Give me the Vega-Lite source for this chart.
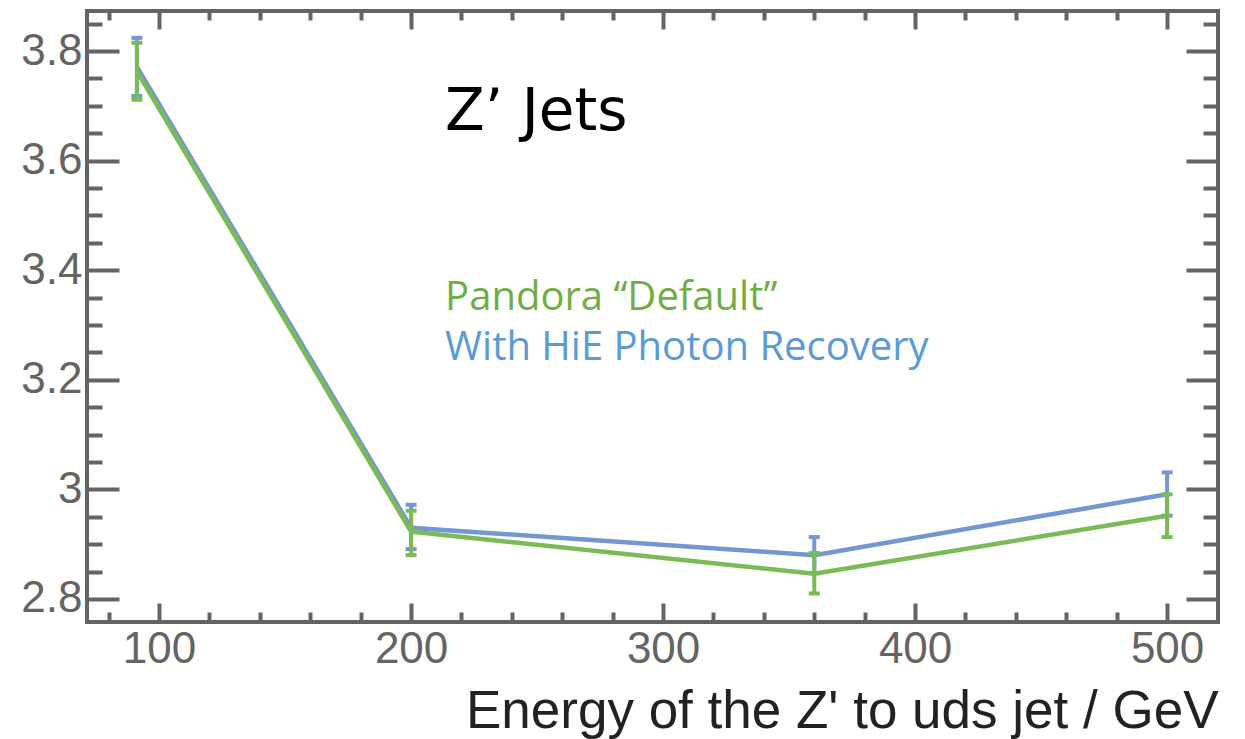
{
  "$schema": "https://vega.github.io/schema/vega-lite/v6.json",
  "autosize": "none",
  "width": 1131,
  "height": 611,
  "padding": {"left": 87, "top": 11, "right": 27, "bottom": 117},
  "background": "white",
  "config": {
    "view": {"stroke": "#646464", "strokeWidth": 4},
    "axis": {"domain": false, "grid": false, "tickColor": "#646464", "tickWidth": 4, "labelColor": "#646464", "labelFont": "Liberation Sans", "labelFontSize": 44, "labelOverlap": false, "labelFlush": false, "title": null}
  },
  "datasets": {
    "pts": [
      {"series": "HiE", "E": 91.2, "val": 3.771, "lo": 3.718, "hi": 3.824},
      {"series": "HiE", "E": 200, "val": 2.930, "lo": 2.891, "hi": 2.972},
      {"series": "HiE", "E": 360, "val": 2.880, "lo": 2.847, "hi": 2.913},
      {"series": "HiE", "E": 500, "val": 2.991, "lo": 2.952, "hi": 3.031},
      {"series": "Default", "E": 91.2, "val": 3.763, "lo": 3.711, "hi": 3.815},
      {"series": "Default", "E": 200, "val": 2.923, "lo": 2.880, "hi": 2.961},
      {"series": "Default", "E": 360, "val": 2.846, "lo": 2.810, "hi": 2.884},
      {"series": "Default", "E": 500, "val": 2.952, "lo": 2.913, "hi": 2.991}
    ],
    "notes": [
      {"label": "Pandora “Default”", "E": 213.5, "val": 3.327},
      {"label": "With HiE Photon Recovery", "E": 213.5, "val": 3.236}
    ],
    "head": [
      {"label": "Z’ Jets", "E": 213.5, "val": 3.656}
    ]
  },
  "resolve": {"axis": {"x": "independent", "y": "independent"}},
  "layer": [
    {
      "data": {"name": "pts"},
      "transform": [{"filter": "datum.series === 'HiE'"}],
      "mark": {"type": "line", "color": "#7497d3", "strokeWidth": 4.5},
      "encoding": {
        "x": {"field": "E", "type": "quantitative", "scale": {"domain": [71.4, 520.2], "nice": false, "zero": false},
          "axis": {"orient": "bottom", "values": [100, 200, 300, 400, 500], "ticks": false, "tickSize": 0, "labelPadding": 40, "labelBaseline": "alphabetic",
            "title": "Energy of the Z' to uds jet / GeV", "titleFont": "Liberation Sans", "titleFontSize": 53, "titleFontWeight": "normal", "titleColor": "#222222",
            "titleAnchor": "end", "titleAlign": "right", "titleBaseline": "alphabetic", "titleX": 1131, "titleY": 105}},
        "y": {"field": "val", "type": "quantitative", "scale": {"domain": [2.758, 3.873], "nice": false, "zero": false},
          "axis": {"orient": "left", "values": [2.8, 3, 3.2, 3.4, 3.6, 3.8], "format": "~g", "ticks": false, "tickSize": 0, "labelPadding": 5}}
      }
    },
    {
      "data": {"name": "pts"},
      "transform": [{"filter": "datum.series === 'HiE'"}],
      "mark": {"type": "rule", "color": "#7497d3", "strokeWidth": 4},
      "encoding": {
        "x": {"field": "E", "type": "quantitative", "scale": {"domain": [71.4, 520.2], "nice": false, "zero": false},
          "axis": {"orient": "bottom", "values": [100, 200, 300, 400, 500], "labels": false, "tickSize": -19}},
        "y": {"field": "lo", "type": "quantitative", "scale": {"domain": [2.758, 3.873], "nice": false, "zero": false},
          "axis": {"orient": "left", "values": [2.8, 3, 3.2, 3.4, 3.6, 3.8], "labels": false, "tickSize": -32}},
        "y2": {"field": "hi"}
      }
    },
    {
      "data": {"name": "pts"},
      "transform": [{"filter": "datum.series === 'HiE'"}],
      "mark": {"type": "tick", "orient": "horizontal", "color": "#7497d3", "size": 11, "thickness": 4, "opacity": 1},
      "encoding": {
        "x": {"field": "E", "type": "quantitative", "scale": {"domain": [71.4, 520.2], "nice": false, "zero": false},
          "axis": {"orient": "bottom", "values": [80, 120, 140, 160, 180, 220, 240, 260, 280, 320, 340, 360, 380, 420, 440, 460, 480], "labels": false, "tickSize": -10}},
        "y": {"field": "lo", "type": "quantitative", "scale": {"domain": [2.758, 3.873], "nice": false, "zero": false},
          "axis": {"orient": "left", "values": [2.85, 2.9, 2.95, 3.05, 3.1, 3.15, 3.25, 3.3, 3.35, 3.45, 3.5, 3.55, 3.65, 3.7, 3.75, 3.85], "labels": false, "tickSize": -15}}
      }
    },
    {
      "data": {"name": "pts"},
      "transform": [{"filter": "datum.series === 'HiE'"}],
      "mark": {"type": "tick", "orient": "horizontal", "color": "#7497d3", "size": 11, "thickness": 4, "opacity": 1},
      "encoding": {
        "x": {"field": "E", "type": "quantitative", "scale": {"domain": [71.4, 520.2], "nice": false, "zero": false},
          "axis": {"orient": "top", "values": [100, 200, 300, 400, 500], "labels": false, "tickSize": -18}},
        "y": {"field": "hi", "type": "quantitative", "scale": {"domain": [2.758, 3.873], "nice": false, "zero": false},
          "axis": {"orient": "right", "values": [2.8, 3, 3.2, 3.4, 3.6, 3.8], "labels": false, "tickSize": -32}}
      }
    },
    {
      "data": {"name": "pts"},
      "transform": [{"filter": "datum.series === 'Default'"}],
      "mark": {"type": "line", "color": "#7bbb57", "strokeWidth": 4.5},
      "encoding": {
        "x": {"field": "E", "type": "quantitative", "scale": {"domain": [71.4, 520.2], "nice": false, "zero": false},
          "axis": {"orient": "top", "values": [80, 120, 140, 160, 180, 220, 240, 260, 280, 320, 340, 360, 380, 420, 440, 460, 480], "labels": false, "tickSize": -9}},
        "y": {"field": "val", "type": "quantitative", "scale": {"domain": [2.758, 3.873], "nice": false, "zero": false},
          "axis": {"orient": "right", "values": [2.85, 2.9, 2.95, 3.05, 3.1, 3.15, 3.25, 3.3, 3.35, 3.45, 3.5, 3.55, 3.65, 3.7, 3.75, 3.85], "labels": false, "tickSize": -15}}
      }
    },
    {
      "data": {"name": "pts"},
      "transform": [{"filter": "datum.series === 'Default'"}],
      "mark": {"type": "rule", "color": "#7bbb57", "strokeWidth": 4},
      "encoding": {
        "x": {"field": "E", "type": "quantitative", "scale": {"domain": [71.4, 520.2], "nice": false, "zero": false}, "axis": null},
        "y": {"field": "lo", "type": "quantitative", "scale": {"domain": [2.758, 3.873], "nice": false, "zero": false}, "axis": null},
        "y2": {"field": "hi"}
      }
    },
    {
      "data": {"name": "pts"},
      "transform": [{"filter": "datum.series === 'Default'"}],
      "mark": {"type": "tick", "orient": "horizontal", "color": "#7bbb57", "size": 11, "thickness": 4, "opacity": 1},
      "encoding": {
        "x": {"field": "E", "type": "quantitative", "scale": {"domain": [71.4, 520.2], "nice": false, "zero": false}, "axis": null},
        "y": {"field": "lo", "type": "quantitative", "scale": {"domain": [2.758, 3.873], "nice": false, "zero": false}, "axis": null}
      }
    },
    {
      "data": {"name": "pts"},
      "transform": [{"filter": "datum.series === 'Default'"}],
      "mark": {"type": "tick", "orient": "horizontal", "color": "#7bbb57", "size": 11, "thickness": 4, "opacity": 1},
      "encoding": {
        "x": {"field": "E", "type": "quantitative", "scale": {"domain": [71.4, 520.2], "nice": false, "zero": false}, "axis": null},
        "y": {"field": "hi", "type": "quantitative", "scale": {"domain": [2.758, 3.873], "nice": false, "zero": false}, "axis": null}
      }
    },
    {
      "data": {"name": "head"},
      "mark": {"type": "text", "align": "left", "baseline": "alphabetic", "font": "DejaVu Sans", "fontSize": 58, "color": "#000000"},
      "encoding": {
        "x": {"field": "E", "type": "quantitative", "scale": {"domain": [71.4, 520.2], "nice": false, "zero": false}, "axis": null},
        "y": {"field": "val", "type": "quantitative", "scale": {"domain": [2.758, 3.873], "nice": false, "zero": false}, "axis": null},
        "text": {"field": "label"}
      }
    },
    {
      "data": {"name": "notes"},
      "mark": {"type": "text", "align": "left", "baseline": "alphabetic", "font": "Open Sans", "fontSize": 40},
      "encoding": {
        "x": {"field": "E", "type": "quantitative", "scale": {"domain": [71.4, 520.2], "nice": false, "zero": false}, "axis": null},
        "y": {"field": "val", "type": "quantitative", "scale": {"domain": [2.758, 3.873], "nice": false, "zero": false}, "axis": null},
        "text": {"field": "label"},
        "color": {"field": "label", "type": "nominal", "scale": {"domain": ["Pandora “Default”", "With HiE Photon Recovery"], "range": ["#70ad47", "#5b9bd5"]}, "legend": null}
      }
    }
  ]
}
